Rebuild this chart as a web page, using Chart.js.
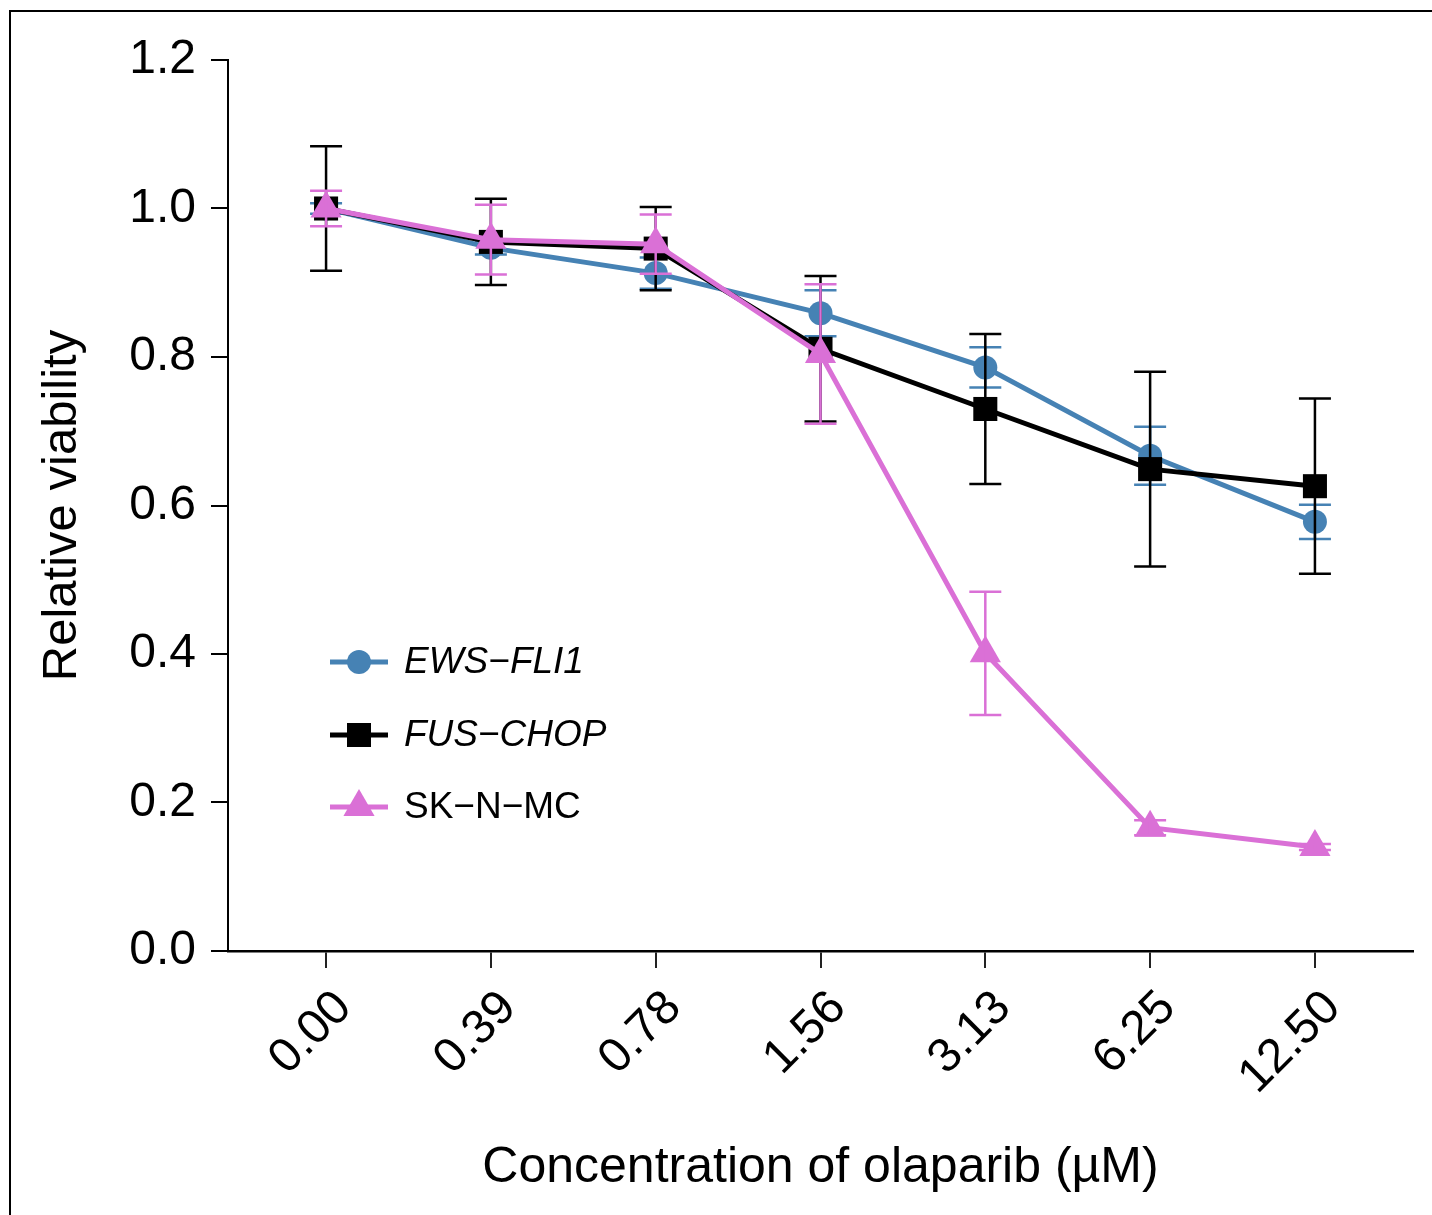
<!DOCTYPE html>
<html lang="en">
<head>
<meta charset="UTF-8">
<title>Relative viability vs olaparib</title>
<script src="https://cdn.jsdelivr.net/npm/chart.js/dist/chart.umd.min.js"></script>
<style>
  body { margin: 0; background: #fff; }
  #wrap { position: relative; width: 1432px; height: 1215px; }
  #frame { position: absolute; left: 9px; top: 10px; right: 0; bottom: 0;
           border-top: 2px solid #000; border-left: 2px solid #000; pointer-events: none; }
</style>
</head>
<body>
<div id="wrap">
  <canvas id="myChart" width="1432" height="1215"></canvas>
  <div id="frame"></div>
</div>
<script>
// data
const concentrations = ['0.00', '0.39', '0.78', '1.56', '3.13', '6.25', '12.50'];
const yTickValues = [0, 0.2, 0.4, 0.6, 0.8, 1.0, 1.2];

const ewsMean = [1.000, 0.947, 0.913, 0.859, 0.786, 0.667, 0.578];
const ewsErr  = [0.007, 0.009, 0.021, 0.031, 0.027, 0.039, 0.023];
const fusMean = [1.000, 0.955, 0.946, 0.811, 0.730, 0.649, 0.626];
const fusErr  = [0.084, 0.058, 0.056, 0.098, 0.101, 0.131, 0.118];
const skMean  = [1.000, 0.958, 0.952, 0.804, 0.401, 0.166, 0.140];
const skErr   = [0.024, 0.047, 0.040, 0.094, 0.083, 0.010, 0.004];

const seriesNames = ['EWS\u2212FLI1', 'FUS\u2212CHOP', 'SK\u2212N\u2212MC'];
const FONT = "'Liberation Sans', Arial, sans-serif";

function toPoints(arr) {
    return arr.map((v, i) => ({ x: i, y: v }));
}

// error bars, drawn right after each dataset
const errorBars = {
    id: 'errorBars',
    afterDatasetDraw(chart, args) {
        const ds = chart.data.datasets[args.index];
        if (!ds.errors) return;
        const y = chart.scales.y;
        const ctx = chart.ctx;
        ctx.save();
        ctx.strokeStyle = ds.borderColor;
        ctx.lineWidth = 2.5;
        args.meta.data.forEach((pt, i) => {
            const m = ds.data[i].y;
            const e = ds.errors[i];
            const top = y.getPixelForValue(m + e);
            const bot = y.getPixelForValue(m - e);
            ctx.beginPath();
            ctx.moveTo(pt.x, top); ctx.lineTo(pt.x, bot);
            ctx.moveTo(pt.x - 16, top); ctx.lineTo(pt.x + 16, top);
            ctx.moveTo(pt.x - 16, bot); ctx.lineTo(pt.x + 16, bot);
            ctx.stroke();
        });
        ctx.restore();
    }
};

// legend inside the axes, first two names in italics
const innerLegend = {
    id: 'innerLegend',
    afterDraw(chart) {
        const ctx = chart.ctx;
        const area = chart.chartArea;
        const x0 = area.left + 102;
        const rows = [662, 735, 807];
        const italic = [true, true, false];
        const sets = [chart.data.datasets[0], chart.data.datasets[1], chart.data.datasets[2]];
        ctx.save();
        sets.forEach((ds, i) => {
            const yy = rows[i];
            ctx.strokeStyle = ds.borderColor;
            ctx.lineWidth = 5;
            ctx.beginPath();
            ctx.moveTo(x0, yy); ctx.lineTo(x0 + 58, yy);
            ctx.stroke();
            ctx.fillStyle = ds.backgroundColor;
            Chart.helpers.drawPoint(ctx, {
                pointStyle: ds.pointStyle, radius: ds.pointRadius, borderWidth: 0
            }, x0 + 29, yy);
            ctx.fillStyle = '#000';
            ctx.font = (italic[i] ? 'italic ' : '') + '37px ' + FONT;
            ctx.textBaseline = 'middle';
            ctx.textAlign = 'left';
            ctx.fillText(ds.label, x0 + 74, yy + 1);
        });
        ctx.restore();
    }
};

const data = {
    datasets: [
        {
            label: seriesNames[0],
            data: toPoints(ewsMean),
            errors: ewsErr,
            borderColor: '#4682b4',
            backgroundColor: '#4682b4',
            borderWidth: 5,
            pointStyle: 'circle',
            pointRadius: 12,
            pointBorderWidth: 0,
            order: 2
        },
        {
            label: seriesNames[1],
            data: toPoints(fusMean),
            errors: fusErr,
            borderColor: '#000000',
            backgroundColor: '#000000',
            borderWidth: 5,
            pointStyle: 'rect',
            pointRadius: 17,
            pointBorderWidth: 0,
            order: 1
        },
        {
            label: seriesNames[2],
            data: toPoints(skMean),
            errors: skErr,
            borderColor: '#da70d6',
            backgroundColor: '#da70d6',
            borderWidth: 5,
            pointStyle: 'triangle',
            pointRadius: 18,
            pointBorderWidth: 0,
            order: 0
        }
    ]
};

const config = {
    type: 'line',
    data: data,
    plugins: [errorBars, innerLegend],
    options: {
        responsive: false,
        animation: false,
        devicePixelRatio: 1,
        layout: { padding: { left: 33, right: 19, top: 60, bottom: 17 } },
        plugins: { legend: { display: false }, tooltip: { enabled: false } },
        elements: { line: { tension: 0 } },
        scales: {
            x: {
                type: 'linear',
                min: -0.595,
                max: 6.595,
                afterBuildTicks: s => { s.ticks = concentrations.map((c, i) => ({ value: i })); },
                afterFit: s => { s.height = 247; },
                ticks: {
                    callback: v => concentrations[v],
                    minRotation: 45,
                    maxRotation: 45,
                    labelOffset: 18,
                    padding: 12,
                    color: '#000',
                    font: { family: FONT, size: 48 }
                },
                grid: { drawOnChartArea: false, drawTicks: true, tickLength: 17, color: '#222', lineWidth: 2 },
                border: { display: true, color: '#000', width: 2.5 },
                title: {
                    display: true,
                    text: 'Concentration of olaparib (\u00b5M)',
                    color: '#000',
                    font: { family: FONT, size: 50 },
                    padding: { top: 0, bottom: 0 }
                }
            },
            y: {
                min: 0,
                max: 1.2,
                afterBuildTicks: s => { s.ticks = yTickValues.map(v => ({ value: v })); },
                afterFit: s => { s.width = 195; },
                ticks: {
                    callback: v => v.toFixed(1),
                    padding: 15,
                    color: '#000',
                    font: { family: FONT, size: 48 }
                },
                grid: { drawOnChartArea: false, drawTicks: true, tickLength: 17, color: '#000', lineWidth: 2 },
                border: { display: true, color: '#000', width: 2 },
                title: {
                    display: true,
                    text: 'Relative viability',
                    color: '#000',
                    font: { family: FONT, size: 49 },
                    padding: { top: 0, bottom: 0 }
                }
            }
        }
    }
};

const myChart = new Chart(document.getElementById('myChart'), config);
</script>
</body>
</html>
